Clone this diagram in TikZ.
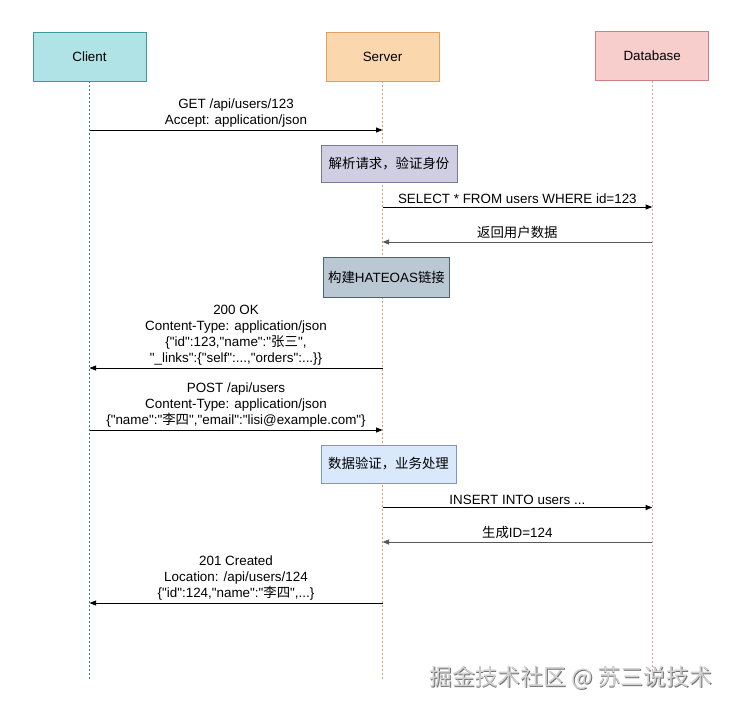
\documentclass[tikz,border=0pt]{standalone}
\usepackage{fontspec}
\setmainfont{Liberation Sans}[Ligatures=TeXOff]
\newfontfamily\cjk{Noto Sans CJK SC}
\usetikzlibrary{arrows.meta}
\definecolor{clientfill}{HTML}{B0E3E6}
\definecolor{clientdraw}{HTML}{3E9A9A}
\definecolor{clientlife}{HTML}{2E8A78}
\definecolor{serverfill}{HTML}{FAD7AC}
\definecolor{serverdraw}{HTML}{E0A060}
\definecolor{serverlife}{HTML}{E09A70}
\definecolor{dbfill}{HTML}{F8CECC}
\definecolor{dbdraw}{HTML}{D08080}
\definecolor{dblife}{HTML}{E0A0A0}
\definecolor{notepurplefill}{HTML}{D0CEE2}
\definecolor{notepurpledraw}{HTML}{7A7599}
\definecolor{notegreyfill}{HTML}{BAC8D3}
\definecolor{notegreydraw}{HTML}{4A6578}
\definecolor{notebluefill}{HTML}{DAE8FC}
\definecolor{notebluedraw}{HTML}{7A98C6}
\begin{document}
\begin{tikzpicture}[x=1pt,y=-1pt,
  font=\fontsize{13.4}{16}\selectfont,
  actor/.style={draw, line width=0.9pt, minimum width=113pt, minimum height=49pt, inner sep=0pt},
  notebox/.style={draw, line width=0.9pt, inner sep=1pt},
  life/.style={dash pattern=on 2pt off 2pt, line width=0.7pt},
  msg/.style={line width=0.8pt, -{Triangle[length=6.5pt,width=5pt]}},
  reply/.style={msg, draw=black!65, -{Triangle[length=6.5pt,width=5pt]}},
  lbl/.style={above, align=center, inner sep=2.5pt, text=black}]
\useasboundingbox (0,0) rectangle (733,710);
\fill[white] (0,0) rectangle (733,710);

% actors
\node[actor, fill=clientfill, draw=clientdraw] (client) at (89.5,56.5) {Client};
\node[actor, fill=serverfill, draw=serverdraw] (server) at (382.5,56.5) {Server};
\node[actor, fill=dbfill, draw=dbdraw] (db) at (652.2,56.2) {Database};

% lifelines
\coordinate (clientend) at (89.5,681);
\coordinate (serverend) at (382.5,681);
\coordinate (dbend) at (652.2,681);
\draw[life, draw=clientlife] (client.south) -- (clientend);
\draw[life, draw=serverlife] (server.south) -- (serverend);
\draw[life, draw=dblife] (db.south) -- (dbend);

% message 1
\coordinate (m1a) at (89.5,130);
\coordinate (m1b) at (382.5,130);
\draw[msg] (m1a) -- node[lbl] {GET /api/users/123\\Accept: application/json} (m1b);

% note 1
\node[notebox, fill=notepurplefill, draw=notepurpledraw, minimum width=136pt, minimum height=37pt] (n1) at (389,163.5) {\cjk 解析请求，验证身份};

% message 2
\coordinate (m2a) at (382.5,207);
\coordinate (m2b) at (652.2,207);
\draw[msg] (m2a) -- node[lbl] {SELECT * FROM users WHERE id=123} (m2b);

% message 3
\coordinate (m3a) at (652.2,242);
\coordinate (m3b) at (382.5,242);
\draw[reply] (m3a) -- node[lbl] {\cjk 返回用户数据} (m3b);

% note 2
\node[notebox, fill=notegreyfill, draw=notegreydraw, minimum width=126pt, minimum height=40pt] (n2) at (386.5,277) {{\cjk 构建}HATEOAS{\cjk 链接}};

% message 4
\coordinate (m4a) at (382.5,368);
\coordinate (m4b) at (89.5,368);
\draw[msg] (m4a) -- node[lbl] {200 OK\\Content-Type: application/json\\\{"id":123,"name":"{\cjk 张三}",\\"\_links":\{"self":...,"orders":...\}\}} (m4b);

% message 5
\coordinate (m5a) at (89.5,430);
\coordinate (m5b) at (382.5,430);
\draw[msg] (m5a) -- node[lbl] {POST /api/users\\Content-Type: application/json\\\{"name":"{\cjk 李四}","email":"lisi@example.com"\}} (m5b);

% note 3
\node[notebox, fill=notebluefill, draw=notebluedraw, minimum width=135pt, minimum height=38pt] (n3) at (388.5,464) {\cjk 数据验证，业务处理};

% message 6
\coordinate (m6a) at (382.5,507.5);
\coordinate (m6b) at (652.2,507.5);
\draw[msg] (m6a) -- node[lbl] {INSERT INTO users ...} (m6b);

% message 7
\coordinate (m7a) at (652.2,542);
\coordinate (m7b) at (382.5,542);
\draw[reply] (m7a) -- node[lbl] {{\cjk 生成}ID=124} (m7b);

% message 8
\coordinate (m8a) at (382.5,603);
\coordinate (m8b) at (89.5,603);
\draw[msg] (m8a) -- node[lbl] {201 Created\\Location: /api/users/124\\\{"id":124,"name":"{\cjk 李四}",...\}} (m8b);

% watermark
\node[anchor=east, inner sep=0pt, text=black!55, font=\cjk\fontsize{22.8}{22.8}\selectfont] (wmshadow) at (713,678.5) {掘金技术社区 @ 苏三说技术};
\node[anchor=east, inner sep=0pt, text=black!18, font=\cjk\fontsize{22.8}{22.8}\selectfont] (wm) at (712.2,677.7) {掘金技术社区 @ 苏三说技术};
\end{tikzpicture}
\end{document}
